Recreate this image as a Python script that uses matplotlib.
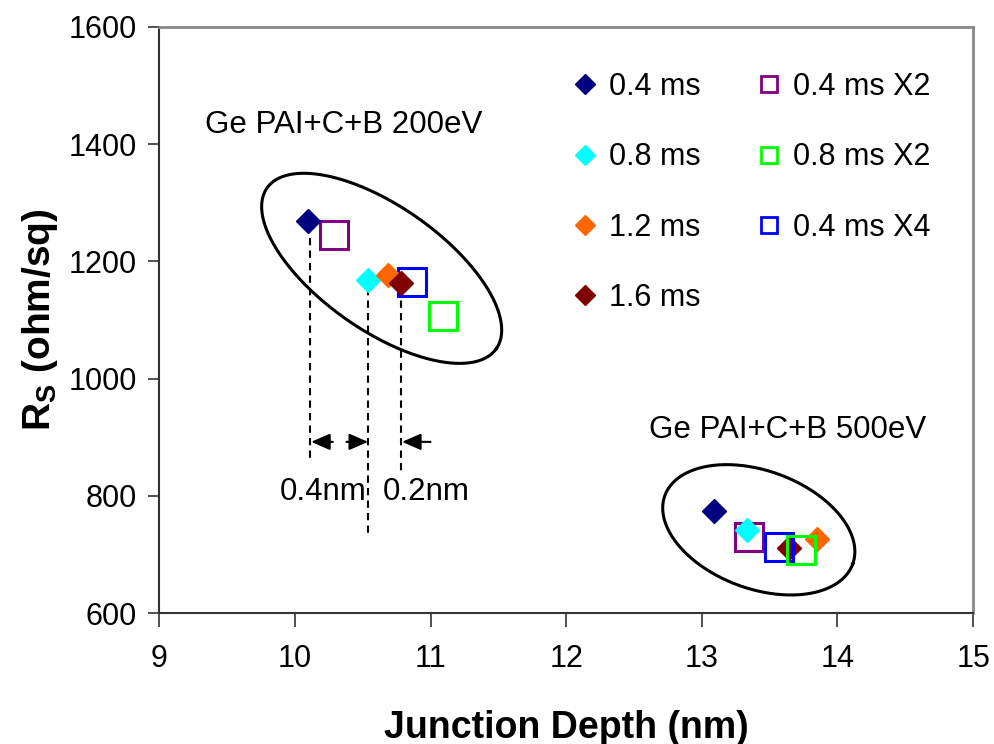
import numpy as np
import matplotlib
matplotlib.use("Agg")
import matplotlib.pyplot as plt
from matplotlib.lines import Line2D

plt.rcParams['font.family'] = ['Liberation Sans', 'DejaVu Sans']
plt.rcParams['mathtext.fontset'] = 'custom'
plt.rcParams['mathtext.rm'] = 'Liberation Sans'
plt.rcParams['mathtext.bf'] = 'Liberation Sans:bold'

# series: (x, y) for the 200eV and 500eV groups
labels_d = ['0.4 ms', '0.8 ms', '1.2 ms', '1.6 ms']
colors_d = ['#000080', '#00FFFF', '#FF6600', '#800000']
xj_d = [[10.10, 13.09], [10.54, 13.33], [10.69, 13.85], [10.78, 13.64]]
rs_d = [[1269, 774], [1168, 742], [1177, 726], [1163, 711]]

labels_s = ['0.4 ms X2', '0.8 ms X2', '0.4 ms X4']
colors_s = ['#800080', '#00FF00', '#0000FF']
xj_s = [[10.29, 13.35], [11.09, 13.73], [10.86, 13.57]]
rs_s = [[1245, 730], [1107, 708], [1165, 713]]

fig = plt.figure(figsize=(9.95, 7.44), dpi=100)
ax = fig.add_axes([0.160, 0.176, 0.818, 0.788])
ax.set_xlim(9, 15)
ax.set_ylim(600, 1600)

SQ = dict(ls='none', marker='s', ms=20, mfc='none', mew=2.2)
DM = dict(ls='none', marker='D', ms=12.5)

# 200eV group: squares beneath diamonds
for i in range(3):
    ax.plot(xj_s[i][0], rs_s[i][0], mec=colors_s[i], zorder=3, **SQ)
for i in range(4):
    ax.plot(xj_d[i][0], rs_d[i][0], color=colors_d[i], zorder=4, **DM)
# 500eV group
ax.plot(xj_s[0][1], rs_s[0][1], mec=colors_s[0], zorder=3, **SQ)
for i in range(4):
    ax.plot(xj_d[i][1], rs_d[i][1], color=colors_d[i], zorder=4, **DM)
for i in (2, 1):
    ax.plot(xj_s[i][1], rs_s[i][1], mec=colors_s[i], zorder=5, **SQ)

# ellipses drawn in pixel space, mapped back to data units
sx = 135.7   # px per nm
sy = 0.586   # px per ohm/sq
def ellipse(cx, cy, a, b, ang):
    t = np.linspace(0, 2 * np.pi, 300)
    th = np.deg2rad(ang)
    px = a * np.cos(t) * np.cos(th) - b * np.sin(t) * np.sin(th)
    py = a * np.cos(t) * np.sin(th) + b * np.sin(t) * np.cos(th)
    ax.plot(cx + px / sx, cy + py / sy, color='black', lw=2.2, zorder=2)

ellipse(10.64, 1188, 140, 62, -35)
ellipse(13.42, 742, 100, 59, -20)

# dashed guide lines
dash = dict(color='black', lw=1.5, ls=(0, (3.5, 2.5)), zorder=1)
ax.plot([10.11, 10.11], [1240, 861], **dash)
ax.plot([10.54, 10.54], [1155, 737], **dash)
ax.plot([10.78, 10.78], [1155, 841], **dash)

arr = dict(arrowstyle='-|>,head_length=1.15,head_width=0.5', color='black', lw=1.5,
           shrinkA=0, shrinkB=0)
ax.annotate('', xy=(10.12, 892), xytext=(10.28, 892), arrowprops=arr)
ax.annotate('', xy=(10.54, 892), xytext=(10.38, 892), arrowprops=arr)
ax.annotate('', xy=(10.79, 892), xytext=(11.0, 892), arrowprops=arr)

ax.text(10.21, 806, '0.4nm', fontsize=22.5, ha='center', va='center')
ax.text(10.97, 806, '0.2nm', fontsize=22.5, ha='center', va='center')
ax.text(9.34, 1433, 'Ge PAI+C+B 200eV', fontsize=22.5, ha='left', va='center')
ax.text(12.61, 912, 'Ge PAI+C+B 500eV', fontsize=22.5, ha='left', va='center')

ax.set_xticks(range(9, 16))
ax.set_yticks(range(600, 1601, 200))
ax.tick_params(labelsize=22, direction='out', width=1.2, color='#333333')
ax.tick_params(axis='x', length=10, pad=12)
ax.tick_params(axis='y', length=8, pad=8)
for s in ('left', 'bottom'):
    ax.spines[s].set_color('#333333')
    ax.spines[s].set_linewidth(1.5)
for s in ('top', 'right'):
    ax.spines[s].set_color('#888888')
    ax.spines[s].set_linewidth(2)

ax.set_xlabel('Junction Depth (nm)', fontsize=27, fontweight='bold', labelpad=26)
ax.set_ylabel(r'$\mathbf{R_S}$ (ohm/sq)', fontsize=28, fontweight='bold', labelpad=6)

handles = [Line2D([], [], ls='none', marker='D', ms=10.5, color=c) for c in colors_d]
handles += [Line2D([], [], ls='none', marker='s', ms=12, mfc='none', mec=c, mew=2) for c in colors_s]
ax.legend(handles, labels_d + labels_s, ncol=2, frameon=False, fontsize=22,
          loc='upper left', bbox_to_anchor=(0.474, 0.97), handlelength=0.8,
          handletextpad=0.4, labelspacing=1.32, columnspacing=1.82)

fig.savefig('out.png', dpi=100)
